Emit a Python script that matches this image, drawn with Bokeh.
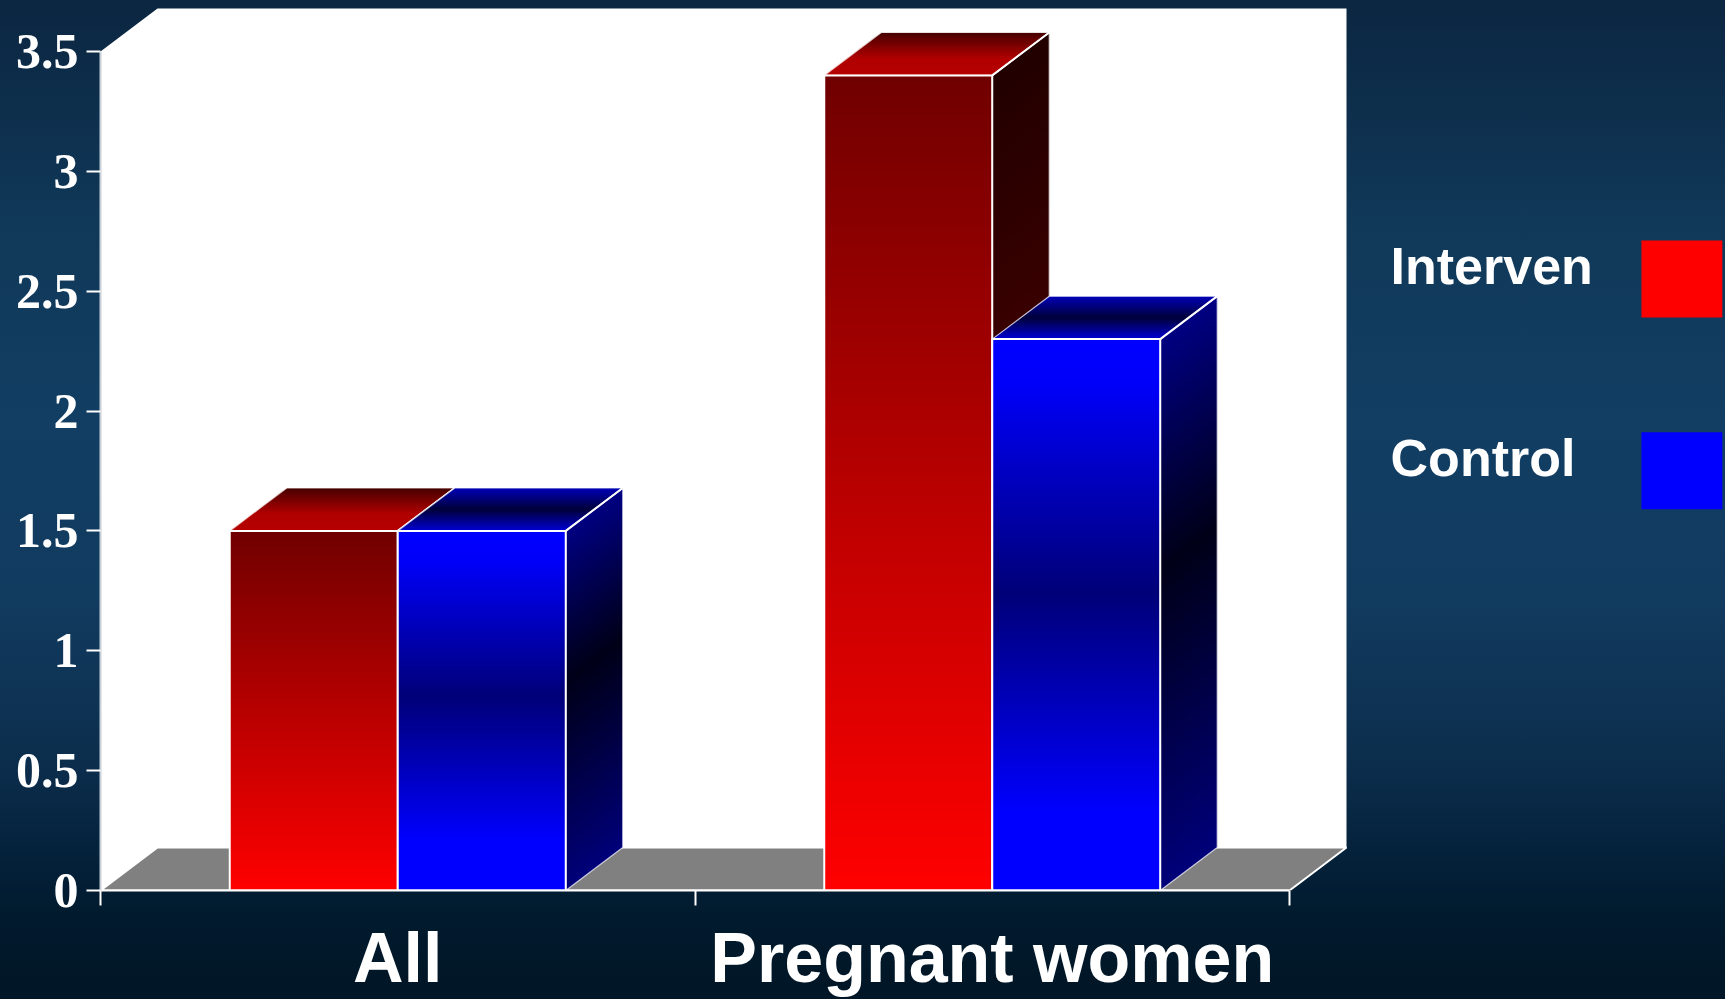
from bokeh.plotting import figure
from bokeh.models import Range1d, FixedTicker
from bokeh.embed import file_html
from bokeh.resources import INLINE
from bokeh.core.properties import value

# --- data -------------------------------------------------------------
categories = ["All", "Pregnant women"]
series_names = ["Interven", "Control"]
interven = [1.5, 3.4]
control = [1.5, 2.3]
y_ticks = [0, 0.5, 1, 1.5, 2, 2.5, 3, 3.5]
y_max = 3.5

# --- layout (pixels) ----------------------------------------------------
W, H = 1725, 999
LEFT, BOTTOM = 100, 108
PX_PER_CAT = 594.5      # width of one category slot
PX_PER_UNIT = 240.0     # pixels per y unit

x_end = (W - LEFT) / PX_PER_CAT
y_end = (H - BOTTOM) / PX_PER_UNIT

DX = 57 / PX_PER_CAT    # 3-D depth offset, x
DY = 43 / PX_PER_UNIT   # 3-D depth offset, y
BAR_W = 168 / PX_PER_CAT


def to_rgb(h):
    h = h.lstrip("#")
    return [int(h[i:i + 2], 16) for i in (0, 2, 4)]


def ramp(stops, t):
    """Colour at position t (0..1) along a list of (pos, hex) stops."""
    for (p0, c0), (p1, c1) in zip(stops[:-1], stops[1:]):
        if t <= p1:
            f = 0 if p1 == p0 else (t - p0) / (p1 - p0)
            a, b = to_rgb(c0), to_rgb(c1)
            return "#%02x%02x%02x" % tuple(round(x + (y - x) * f) for x, y in zip(a, b))
    return stops[-1][1]


# shading of each face, stops run top->bottom (front/side) and back->front (top)
STYLE = {
    "Interven": {
        "front": [(0, "#700000"), (1, "#ff0000")],
        "side": [(0, "#220000"), (1, "#6a0000")],
        "top": [(0, "#460000"), (0.6, "#b00000"), (1, "#b60000")],
    },
    "Control": {
        "front": [(0, "#0000ff"), (0.08, "#0000fa"), (0.46, "#000078"), (0.86, "#0000ff"), (1, "#0000ff")],
        "side": [(0, "#000082"), (0.42, "#000018"), (1, "#00007a")],
        "top": [(0, "#0000b8"), (0.5, "#00003a"), (1, "#0000d4")],
    },
}

p = figure(
    width=W, height=H,
    x_range=Range1d(0, x_end), y_range=Range1d(0, y_end),
    output_backend="svg", toolbar_location=None,
    min_border_left=LEFT, min_border_bottom=BOTTOM,
    min_border_top=0, min_border_right=0,
)
p.styles = {
    "background": "linear-gradient(to bottom, #0b2641 0%, #103858 22%, #123e63 42%, "
                  "#113b5f 60%, #0c2e4d 76%, #04213a 86%, #011a2d 92%, #011626 100%)"
}
p.border_fill_color = None
p.background_fill_color = None
p.outline_line_color = None
p.grid.visible = False

# --- walls and floor ---------------------------------------------------
p.patch([0, 0, DX, 2 + DX, 2 + DX, DX],
        [0, y_max, y_max + DY, y_max + DY, DY, DY],
        fill_color="white", line_color=None)
p.patch([0, DX, 2 + DX, 2], [0, DY, DY, 0],
        fill_color="#808080", line_color="white", line_width=2)

# --- 3-D bars ------------------------------------------------------------
def draw_bar(x0, x1, v, style):
    n = max(int(v * PX_PER_UNIT / 2), 1)
    step = v / n
    fl, fr, fb, ft, fc = [], [], [], [], []
    sx, sy, sc = [], [], []
    for i in range(n):
        top = v * (1 - i / n)
        bot = max(top - 2 * step, 0)   # each strip overlaps the next one
        t = (i + 0.5) / n
        fl.append(x0); fr.append(x1); ft.append(top); fb.append(bot)
        fc.append(ramp(style["front"], t))
        sx.append([x1, x1, x1 + DX, x1 + DX])
        sy.append([bot, top, top + DY, bot + DY])
        sc.append(ramp(style["side"], t))
    p.quad(left=fl, right=fr, top=ft, bottom=fb, fill_color=fc, line_color=None)
    p.patches(sx, sy, fill_color=sc, line_color=None)

    m = 24
    tx, ty, tc = [], [], []
    for j in range(m):
        d0 = 1 - j / m
        d1 = max(1 - (j + 2) / m, 0)
        tx.append([x0 + d0 * DX, x1 + d0 * DX, x1 + d1 * DX, x0 + d1 * DX])
        ty.append([v + d0 * DY, v + d0 * DY, v + d1 * DY, v + d1 * DY])
        tc.append(ramp(style["top"], (j + 0.5) / m))
    p.patches(tx, ty, fill_color=tc, line_color=None)

    # edges
    p.patches([[x1, x1, x1 + DX, x1 + DX], [x0, x1, x1 + DX, x0 + DX]],
              [[0, v, v + DY, DY], [v, v, v + DY, v + DY]],
              fill_color=None, line_color="white", line_width=1.2, line_alpha=0.75)
    p.quad(left=[x0], right=[x1], top=[v], bottom=[0],
           fill_color=None, line_color="white", line_width=2)
    p.line([x1, x1 + DX], [v, v + DY], line_color="white", line_width=2)


for k, cat in enumerate(categories):
    c = k + 0.5
    draw_bar(c - BAR_W, c, interven[k], STYLE["Interven"])
    draw_bar(c, c + BAR_W, control[k], STYLE["Control"])

# --- legend (label on the left, swatch on the right) -----------------------
legend_y = [2.605, 1.805]
swatch_top = [2.711, 1.911]
swatch_colors = ["#ff0000", "#0000ff"]
p.text(x=[2.17, 2.17], y=legend_y, text=series_names,
       text_color="white", text_font=value("Liberation Sans"), text_font_style="bold",
       text_font_size="52px", text_baseline="alphabetic", text_align="left")
p.quad(left=[2.592, 2.592], right=[2.728, 2.728],
       top=swatch_top, bottom=[t - 0.321 for t in swatch_top],
       fill_color=swatch_colors, line_color=None)

# --- axes -----------------------------------------------------------------
xa = p.xaxis[0]
xa.ticker = FixedTicker(ticks=[0.5, 1.5], minor_ticks=[0, 1, 2])
xa.major_label_overrides = {0.5: categories[0], 1.5: categories[1]}
xa.bounds = (0, 2)
xa.axis_line_color = "white"
xa.axis_line_width = 2
xa.major_tick_line_color = None
xa.major_tick_out = 15
xa.major_tick_in = 0
xa.minor_tick_line_color = "white"
xa.minor_tick_line_width = 2
xa.minor_tick_out = 15
xa.minor_tick_in = 0
xa.major_label_standoff = 13
xa.major_label_text_color = "white"
xa.major_label_text_font = "Liberation Sans"
xa.major_label_text_font_style = "bold"
xa.major_label_text_font_size = "70px"

ya = p.yaxis[0]
ya.ticker = FixedTicker(ticks=y_ticks)
ya.bounds = (0, y_max)
ya.axis_line_color = "#c8d0d8"
ya.axis_line_width = 2
ya.major_tick_line_color = "white"
ya.major_tick_line_width = 2
ya.major_tick_out = 14
ya.major_tick_in = 0
ya.minor_tick_line_color = None
ya.major_label_standoff = 8
ya.major_label_text_color = "white"
ya.major_label_text_font = "Liberation Serif"
ya.major_label_text_font_style = "bold"
ya.major_label_text_font_size = "50px"

open("out.html", "w").write(file_html(p, INLINE))
